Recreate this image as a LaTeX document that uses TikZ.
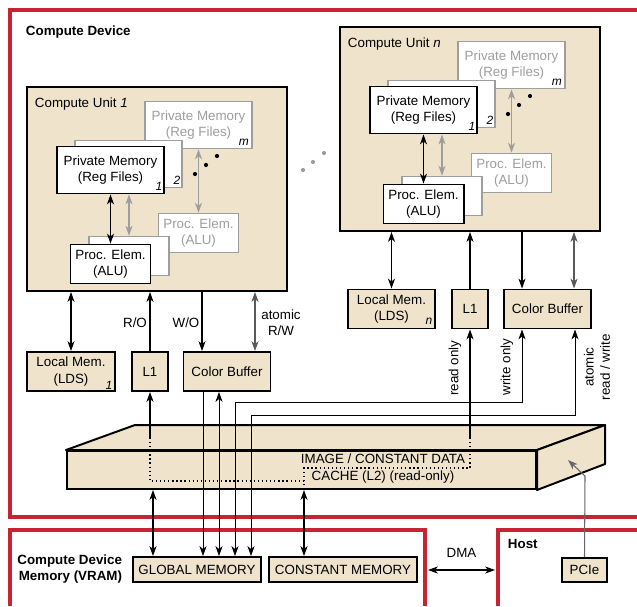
\documentclass[tikz,border=0pt]{standalone}
\usepackage{fontspec}
\setmainfont{Liberation Sans}
\usetikzlibrary{shapes, arrows, arrows.meta}
\definecolor{beige}{RGB}{239,227,204}
\definecolor{framered}{RGB}{200,35,50}
\definecolor{ghost}{RGB}{158,158,158}
\tikzstyle{cubox} = [rectangle, draw=black, line width=1.4pt, fill=beige, minimum width=6.5cm, minimum height=5.1cm, inner sep=0pt]
\tikzstyle{pmem} = [rectangle, draw=black, line width=1.4pt, fill=white, minimum width=2.675cm, minimum height=1.175cm, align=center, inner sep=0pt]
\tikzstyle{pelem} = [rectangle, draw=black, line width=1.4pt, fill=white, minimum width=2cm, minimum height=0.975cm, align=center, inner sep=0pt]
\tikzstyle{faded} = [draw=ghost, text=ghost, line width=1.2pt]
\tikzstyle{mem} = [rectangle, draw=black, line width=1.4pt, fill=beige, minimum height=0.975cm, align=center, inner sep=0pt]
\tikzstyle{bigmem} = [rectangle, draw=black, line width=1.4pt, fill=beige, minimum height=0.625cm, inner sep=0pt]
\tikzstyle{subidx} = [font=\fontsize{8.5}{9}\selectfont\itshape, inner sep=0pt]
\tikzstyle{heading} = [font=\fontsize{9.5}{11.5}\selectfont\bfseries]
\tikzstyle{redframe} = [draw=framered, line width=2.2pt]
\tikzstyle{arrow} = [line width=0.75pt, ->, >={Stealth[length=7pt, width=5pt, inset=2pt]}]
\tikzstyle{dblarrow} = [line width=0.75pt, <->, >={Stealth[length=7pt, width=5pt, inset=2pt]}]
\tikzstyle{cachepath} = [line width=0.9pt, dash pattern=on 0.9pt off 2pt]

\begin{document}
\begin{tikzpicture}[x=0.025cm, y=-0.025cm, font=\fontsize{9.5}{11.5}\selectfont]
    \useasboundingbox (0,0) rectangle (637,606);

    % Frames
    \draw[redframe] (637,10) -- (10,10) -- (10,517) -- (637,517);
    \draw[redframe] (10,606) -- (10,530) -- (425,530) -- (425,606);
    \draw[redframe] (498,606) -- (498,530) -- (637,530);
    \node[heading, anchor=west] (devlabel) at (21,32) {Compute Device};

    % Compute units
    \foreach \u/\ox/\oy in {1/27/87, n/340/27} {
        \begin{scope}[shift={(\ox,\oy)}]
            \node[cubox] (cu\u) at (130,102) {};
            \node[anchor=west] (cutitle\u) at (3,17) {Compute Unit \textit{\u}};
            \node[pmem, faded] (pmm\u) at (171.5,38) {Private Memory\\(Reg Files)};
            \node[pelem, faded] (pem\u) at (171.5,146) {Proc. Elem.\\(ALU)};
            \node[pmem, draw=ghost, line width=1.2pt] (pm2\u) at (101.5,77) {};
            \node[pelem, draw=ghost, line width=1.2pt] (pe2\u) at (102,169) {};
            \node[pmem] (pm1\u) at (83.5,83) {Private Memory\\(Reg Files)};
            \node[pelem] (pe1\u) at (83.5,177) {Proc. Elem.\\(ALU)};
            \node[subidx] (idxm\u) at ([shift={(-9,-7)}]pmm\u.south east) {m};
            \node[subidx] (idx2\u) at ([shift={(-6,-8)}]pm2\u.south east) {2};
            \node[subidx] (idx1\u) at ([shift={(-6,-8)}]pm1\u.south east) {1};
            \fill (168,87) circle (1.5pt);
            \fill (179,78) circle (1.5pt);
            \fill (190,69) circle (1.5pt);
            \draw[dblarrow] (pm1\u.south) -- (pe1\u.north);
            \draw[dblarrow, ghost] (pe2\u.north |- pm1\u.south) -- (pe2\u.north);
            \draw[dblarrow, ghost] (pmm\u.south) -- (pem\u.north);
        \end{scope}
    }
    \fill[ghost] (303,170) circle (1.5pt);
    \fill[ghost] (313,162) circle (1.5pt);
    \fill[ghost] (324,153) circle (1.5pt);

    % Per-unit memories
    \node[mem, minimum width=2.2cm] (lm1) at (71,371.5) {Local Mem.\\(LDS)};
    \node[mem, minimum width=0.9cm] (l1a) at (150,371.5) {L1};
    \node[mem, minimum width=2.175cm] (cb1) at (227,371.5) {Color Buffer};
    \node[mem, minimum width=2.175cm] (lmn) at (391.5,309) {Local Mem.\\(LDS)};
    \node[mem, minimum width=0.9cm] (l1n) at (470,309) {L1};
    \node[mem, minimum width=2.175cm] (cbn) at (547.5,309) {Color Buffer};
    \node[subidx] (idxlm1) at ([shift={(-7,-7)}]lm1.south east) {1};
    \node[subidx] (idxlmn) at ([shift={(-7,-8)}]lmn.south east) {n};

    \draw[dblarrow] (lm1.north |- cu1.south) -- (lm1.north);
    \draw[arrow] (l1a.north) -- (l1a.north |- cu1.south);
    \draw[arrow] (202,0 |- cu1.south) -- (202,0 |- cb1.north);
    \draw[dblarrow, black!65] (255,0 |- cu1.south) -- (255,0 |- cb1.north);
    \node (ro) at (135,323) {R/O};
    \node (wo) at (186,323) {W/O};
    \node[align=center] (atomic1) at (281,323) {atomic\\R/W};

    \draw[dblarrow] (lmn.north |- cun.south) -- (lmn.north);
    \draw[arrow] (l1n.north) -- (l1n.north |- cun.south);
    \draw[arrow] (522,0 |- cun.south) -- (522,0 |- cbn.north);
    \draw[dblarrow, black!65] (574,0 |- cun.south) -- (574,0 |- cbn.north);

    % Cache slab
    \node[rectangle, draw=black, line width=1.4pt, fill=beige, minimum width=11.725cm, minimum height=0.95cm] (cache) at (301.5,470) {};
    \draw[line width=1.4pt, fill=beige, line join=round] (cache.north west) -- ++(69,-25) -- ([shift={(68,-25)}]cache.north east) -- (cache.north east) -- cycle;
    \draw[line width=1.4pt, fill=beige, line join=round] (cache.north east) -- ++(68,-25) -- ([shift={(68,-26)}]cache.south east) -- (cache.south east) -- cycle;
    \node[align=center, font=\fontsize{9.5}{12}\selectfont] (cachetxt) at (383,468.5) {IMAGE / CONSTANT DATA\\CACHE (L2) (read-only)};
    \coordinate (rd1) at (150,438);
    \coordinate (rdn) at (470,438);
    \draw[cachepath] (rd1) |- (304,481) -- (304,0 |- cache.south);
    \draw[cachepath] (304,481) -- (304,468) -| (rdn);

    % Global / constant memory
    \node[bigmem, minimum width=3.2cm] (gm) at (197,569.5) {GLOBAL MEMORY};
    \node[bigmem, minimum width=3.7cm] (cm) at (343,569.5) {CONSTANT MEMORY};
    \node[heading, align=right, anchor=east] (vramlabel) at (127,569) {Compute Device\\Memory (VRAM)};

    \draw[arrow] (rd1) -- (l1a.south);
    \draw[arrow] (rdn) -- (l1n.south);
    \draw[arrow, line width=0.6pt] (203,0 |- cb1.south) -- (203,0 |- gm.north);
    \draw[dblarrow, line width=0.6pt] (219,0 |- cb1.south) -- (219,0 |- gm.north);
    \draw[dblarrow, line width=0.6pt] (522,0 |- cbn.south) |- (235,402) -- (235,0 |- gm.north);
    \draw[dblarrow, line width=0.6pt] (575,0 |- cbn.south) |- (251,415) -- (251,0 |- gm.north);
    \node[rotate=90] (rdonly) at (455,368) {read only};
    \node[rotate=90] (wronly) at (507,367) {write only};
    \node[rotate=90, align=center] (atomicn) at (597,367) {atomic\\read / write};

    \draw[dblarrow] (153,0 |- cache.south) -- (153,0 |- gm.north);
    \draw[dblarrow] (304,0 |- cache.south) -- (304,0 |- cm.north);

    % Host
    \node[heading, anchor=west] (hostlabel) at (503,544) {Host};
    \node[bigmem, minimum width=1.125cm, minimum height=0.6cm] (pcie) at (584.5,570) {PCIe};
    \coordinate (pcietip) at (568,460);
    \draw[arrow, black!60] (pcie.north) -- (585,476) -- (pcietip);
    \coordinate (dmal) at (428,570);
    \coordinate (dmar) at (495,570);
    \draw[dblarrow] (dmal) -- node[above=5pt] {DMA} (dmar);
\end{tikzpicture}
\end{document}
